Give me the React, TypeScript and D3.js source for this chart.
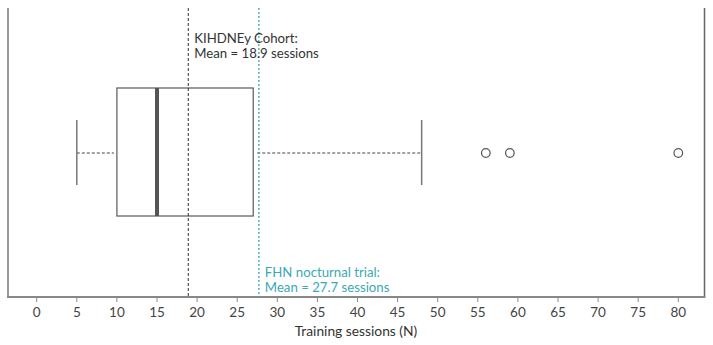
import React from "react";
import * as d3 from "d3";

const tickValues = [0, 5, 10, 15, 20, 25, 30, 35, 40, 45, 50, 55, 60, 65, 70, 75, 80];
const whiskerLow = 5;
const q1 = 10;
const median = 15;
const q3 = 27;
const whiskerHigh = 48;
const outliers = [56, 59, 80];
const cohortMean = 18.9;
const trialMean = 27.7;
const cohortLabel = ["KIHDNEy Cohort:", "Mean = 18.9 sessions"];
const trialLabel = ["FHN nocturnal trial:", "Mean = 27.7 sessions"];
const axisTitle = "Training sessions (N)";

const W = 713;
const H = 345;
const left = 8;
const right = 704.5;
const top = 8;
const bottom = 297;
const cy = 153;
const TEAL = "#3aa9b4";
const FONT = "Lato, 'Open Sans', sans-serif";

export default function App() {
  const x = d3.scaleLinear().domain([0, 80]).range([36.7, 678.3]);
  return (
    <svg width={W} height={H} style={{ position: "absolute", left: 0, top: 0 }}>
      <rect width={W} height={H} fill="#fff" />
      {/* borders */}
      <line x1={left} x2={left} y1={top} y2={bottom} stroke="#999" strokeWidth={2} />
      <line x1={right} x2={right} y1={top} y2={bottom} stroke="#666" strokeWidth={1.5} />
      <line x1={left - 1} x2={right + 1} y1={bottom} y2={bottom} stroke="#888" strokeWidth={2} />
      {/* ticks */}
      {tickValues.map((t) => (
        <g key={t}>
          <line x1={x(t)} x2={x(t)} y1={bottom} y2={bottom + 5} stroke="#888" strokeWidth={1} />
          <text x={x(t)} y={317} textAnchor="middle" fontFamily={FONT} fontSize={13.5} fill="#444">
            {t}
          </text>
        </g>
      ))}
      <text x={356} y={336} textAnchor="middle" fontFamily={FONT} fontSize={13.8} fill="#333">
        {axisTitle}
      </text>
      {/* whiskers */}
      <line x1={x(whiskerLow)} x2={x(q1) - 3} y1={cy} y2={cy} stroke="#444" strokeWidth={1} strokeDasharray="3,2" />
      <line x1={x(q3) + 4} x2={x(whiskerHigh)} y1={cy} y2={cy} stroke="#444" strokeWidth={1} strokeDasharray="3,2" />
      <line x1={x(whiskerLow)} x2={x(whiskerLow)} y1={120} y2={185} stroke="#777" strokeWidth={1.5} />
      <line x1={x(whiskerHigh)} x2={x(whiskerHigh)} y1={120} y2={185} stroke="#777" strokeWidth={1.5} />
      {/* box */}
      <rect x={x(q1)} y={88} width={x(q3) - x(q1)} height={128} fill="none" stroke="#666" strokeWidth={1.3} />
      <line x1={x(median)} x2={x(median)} y1={88} y2={216} stroke="#555" strokeWidth={4} />
      {/* outliers */}
      {outliers.map((o) => (
        <circle key={o} cx={x(o)} cy={cy} r={4.3} fill="none" stroke="#555" strokeWidth={1.2} />
      ))}
      {/* mean lines */}
      <line x1={x(cohortMean)} x2={x(cohortMean)} y1={top} y2={bottom} stroke="#333" strokeWidth={1} strokeDasharray="3,2" />
      <line x1={x(trialMean)} x2={x(trialMean)} y1={top} y2={bottom} stroke={TEAL} strokeWidth={1.3} strokeDasharray="2,2" />
      <text fontFamily={FONT} fontSize={13.2} fill="#333">
        <tspan x={x(cohortMean) + 6} y={43}>{cohortLabel[0]}</tspan>
        <tspan x={x(cohortMean) + 6} y={57.5}>{cohortLabel[1]}</tspan>
      </text>
      <text fontFamily={FONT} fontSize={13.2} fill={TEAL}>
        <tspan x={x(trialMean) + 6} y={276.5}>{trialLabel[0]}</tspan>
        <tspan x={x(trialMean) + 6} y={291.5}>{trialLabel[1]}</tspan>
      </text>
    </svg>
  );
}
